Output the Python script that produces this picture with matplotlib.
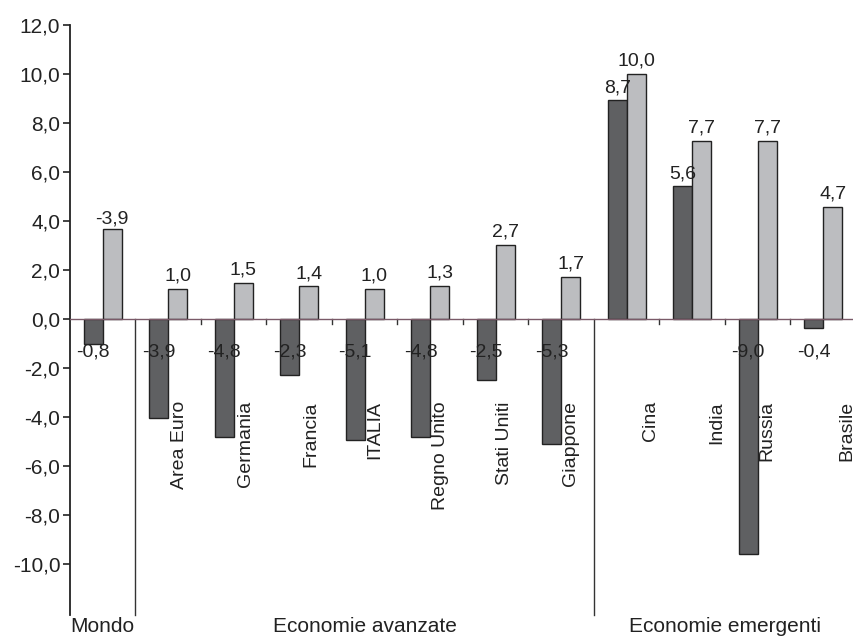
import matplotlib
matplotlib.use("Agg")
import matplotlib.pyplot as plt
import numpy as np

plt.rcParams['font.family'] = ['Liberation Sans', 'DejaVu Sans']

categories = ["Mondo", "Area Euro", "Germania", "Francia", "ITALIA", "Regno Unito",
              "Stati Uniti", "Giappone", "Cina", "India", "Russia", "Brasile"]
serie_scura = [-1.0, -4.05, -4.8, -2.3, -4.93, -4.8, -2.5, -5.1, 8.93, 5.42, -9.6, -0.35]
serie_chiara = [3.66, 1.22, 1.48, 1.33, 1.22, 1.35, 3.03, 1.71, 10.0, 7.28, 7.28, 4.59]
etichette_scura = ["-0,8", "-3,9", "-4,8", "-2,3", "-5,1", "-4,8", "-2,5", "-5,3", "8,7", "5,6", "-9,0", "-0,4"]
etichette_chiara = ["-3,9", "1,0", "1,5", "1,4", "1,0", "1,3", "2,7", "1,7", "10,0", "7,7", "7,7", "4,7"]
gruppi = ["Mondo", "Economie avanzate", "Economie emergenti"]
gruppi_limiti = [(-0.5, 0.5), (0.5, 7.5), (7.5, 11.5)]
yticks = [-10, -8, -6, -4, -2, 0, 2, 4, 6, 8, 10, 12]

# layout (not data)
label_dx = [0.15, 0.17, 0.18, 0.18, 0.15, 0.15, 0.14, 0.14, 0.36, 0.37, 0.14, 0.36]

W, H = 854, 639
fig = plt.figure(figsize=(W / 100, H / 100), dpi=100)
left_px, right_px, top_px, bot_px = 70, 856, 25, 615
ax = fig.add_axes([left_px / W, (H - bot_px) / H, (right_px - left_px) / W, (bot_px - top_px) / H])

ymin, ymax = -12.08, 12.0
ax.set_xlim(-0.5, len(categories) - 0.5)
ax.set_ylim(ymin, ymax)

x = np.arange(len(categories))
bw = 0.29
dark = '#5f6062'
light = '#bcbdc0'
ax.bar(x - bw / 2, serie_scura, width=bw, color=dark, edgecolor='#222222', linewidth=1.0, zorder=3)
ax.bar(x + bw / 2, serie_chiara, width=bw, color=light, edgecolor='#222222', linewidth=1.0, zorder=3)

ax.axhline(0, color='#7a5a68', linewidth=1.0, zorder=4)

fs_bar = 14
fs_cat = 14
fs_big = 15
txtc = '#222222'
for i in range(len(categories)):
    v = serie_scura[i]
    if v < 0:
        ax.text(x[i] - bw / 2, -1.35, etichette_scura[i], ha='center', va='center', fontsize=fs_bar, color=txtc, zorder=5)
    else:
        ax.annotate(etichette_scura[i], (x[i] - bw / 2, v), xytext=(0, 3), textcoords='offset points',
                    ha='center', va='bottom', fontsize=fs_bar, color=txtc, zorder=5)
    ax.annotate(etichette_chiara[i], (x[i] + bw / 2, serie_chiara[i]), xytext=(0, 3 if i > 0 else 1),
                textcoords='offset points', ha='center', va='bottom', fontsize=fs_bar, color=txtc, zorder=5)
    if i > 0:
        ax.text(x[i] + label_dx[i], -3.35, categories[i], rotation=90, ha='center', va='top',
                fontsize=fs_cat, color=txtc, zorder=5)

# group separators and small ticks
for b in np.arange(0.5, len(categories) - 0.5 + 1e-9, 1.0):
    is_sep = any(abs(b - g[0]) < 1e-6 for g in gruppi_limiti[1:])
    if is_sep:
        ax.plot([b, b], [0, ymin], color='#333333', linewidth=1.0, zorder=2, clip_on=False)
    else:
        ax.plot([b, b], [0, -0.22], color='#333333', linewidth=1.0, zorder=2)

for name, (a, b) in zip(gruppi, gruppi_limiti):
    ax.annotate(name, ((a + b) / 2, ymin), xytext=(0, -1.5), textcoords='offset points',
                ha='center', va='top', fontsize=fs_big, color=txtc, annotation_clip=False)

for s in ['top', 'right', 'bottom']:
    ax.spines[s].set_visible(False)
ax.spines['left'].set_color('#222222')
ax.spines['left'].set_linewidth(1.3)
ax.spines['left'].set_bounds(ymin, ymax)
ax.set_yticks(yticks)
ax.set_yticklabels([f"{t:.1f}".replace('.', ',') for t in yticks], fontsize=fs_big, color=txtc)
ax.tick_params(axis='y', length=5, width=1.2, color='#222222', pad=2)
ax.set_xticks([])

fig.savefig('out.png', dpi=100)
